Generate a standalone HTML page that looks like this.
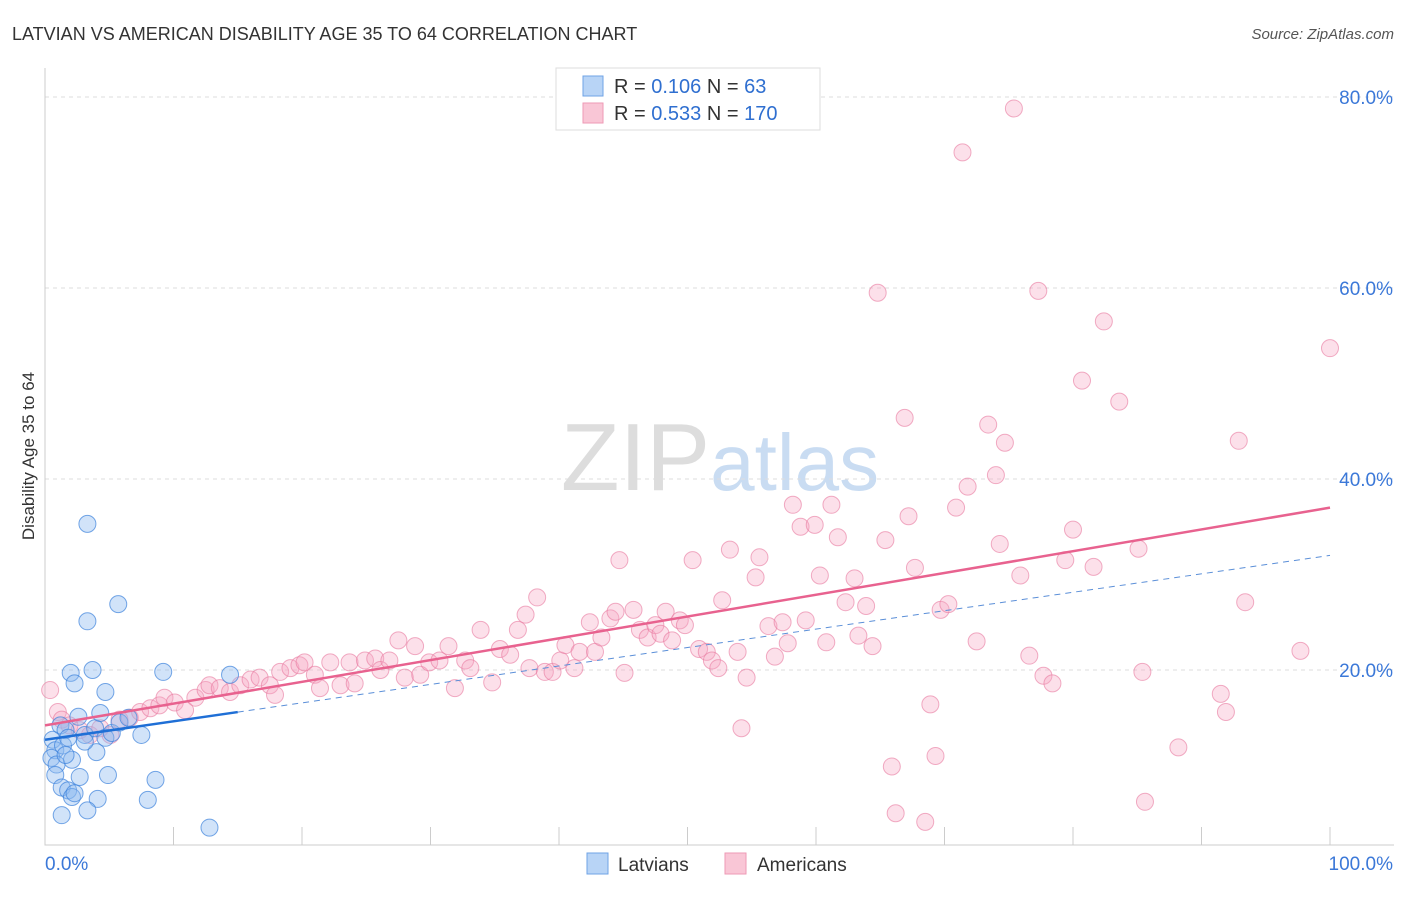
<!DOCTYPE html>
<html><head><meta charset="utf-8"><style>
body{margin:0;background:#fff;font-family:"Liberation Sans",sans-serif;}
svg text{font-family:"Liberation Sans",sans-serif;}
</style></head><body>
<svg id="chart" width="1406" height="892" viewBox="0 0 1406 892" xmlns="http://www.w3.org/2000/svg">
<text x="12" y="40" font-size="18" fill="#333">LATVIAN VS AMERICAN DISABILITY AGE 35 TO 64 CORRELATION CHART</text>
<text x="1394" y="39" font-size="15" fill="#555" font-style="italic" text-anchor="end">Source: ZipAtlas.com</text>
<text x="720" y="490" font-size="96" fill="#ddd" text-anchor="middle" font-family="Liberation Serif">ZIP<tspan fill="#c9dcf2" font-family="Liberation Sans" font-size="80">atlas</tspan></text>
<g id="grid"></g>
<g id="axes"></g>
<g id="pts"></g>
<g id="lines"></g>
<text transform="translate(34,456) rotate(-90)" font-size="17" fill="#333" text-anchor="middle">Disability Age 35 to 64</text>
<g>
<rect x="556" y="68" width="264" height="62" fill="#fff" stroke="#ddd"/>
<rect x="583" y="76" width="20" height="20" fill="#b8d4f6" stroke="#6fa3e6"/>
<rect x="583" y="103" width="20" height="20" fill="#f9c6d6" stroke="#ee9ab5"/>
<text x="614" y="93" font-size="20" fill="#333">R = <tspan fill="#2f6fd0">0.106</tspan>   N = <tspan fill="#2f6fd0">  63</tspan></text>
<text x="614" y="120" font-size="20" fill="#333">R = <tspan fill="#2f6fd0">0.533</tspan>   N = <tspan fill="#2f6fd0">170</tspan></text>
</g>
<g>
<rect x="587" y="853" width="21" height="21" fill="#b8d4f6" stroke="#6fa3e6"/>
<text x="618" y="871" font-size="19" fill="#333">Latvians</text>
<rect x="725" y="853" width="21" height="21" fill="#f9c6d6" stroke="#ee9ab5"/>
<text x="757" y="871" font-size="19" fill="#333">Americans</text>
</g>
</svg>
<script>
const yTicks=[20,40,60,80];
const yTickLabels=["20.0%","40.0%","60.0%","80.0%"];
const xTickLabels=["0.0%","100.0%"];
const latX=[0.6,0.8,0.5,0.9,1.2,1.4,1.6,1.8,0.8,1.3,1.3,1.8,2.0,2.3,2.1,2.3,2.7,2.6,3.1,3.3,3.3,3.7,3.9,4.0,4.1,4.3,4.7,4.7,4.9,5.2,5.7,5.8,6.5,7.5,8.0,8.6,9.2,12.8,14.4,3.3,3.1,2.1,1.6];
const latY=[12.7,11.6,10.8,10.1,14.2,12.1,13.7,12.9,9.0,7.7,4.8,7.4,19.7,18.6,6.7,7.1,8.8,15.1,13.2,35.3,25.1,20.0,13.9,11.4,6.5,15.5,17.7,12.9,9.0,13.4,26.9,14.5,15.0,13.2,6.4,8.5,19.8,3.5,19.5,5.3,12.5,10.6,11.1];
const amX=[0.4,1.0,1.3,1.9,2.7,3.5,4.3,5.1,5.8,6.6,7.4,8.2,8.9,9.3,10.1,10.9,11.7,12.5,12.8,13.6,14.4,15.2,16.0,16.7,17.5,17.9,18.3,19.1,19.8,20.2,21.0,21.4,22.2,23.0,23.7,24.1,24.9,25.7,26.1,26.8,27.5,28.0,28.8,29.2,29.9,30.7,31.4,31.9,32.7,33.1,33.9,34.8,35.4,36.2,36.8,37.4,37.7,38.3,38.9,39.5,40.1,40.5,41.2,41.6,42.4,42.8,43.3,44.0,44.4,44.7,45.1,45.8,46.3,46.9,47.5,47.9,48.3,48.8,49.4,49.8,50.4,50.9,51.5,51.9,52.4,52.7,53.3,53.9,54.2,54.6,55.3,55.6,56.3,56.8,57.4,57.8,58.2,58.8,59.2,59.9,60.3,60.8,61.2,61.7,62.3,63.0,63.3,63.9,64.4,64.8,65.4,65.9,66.2,66.9,67.2,67.7,68.5,68.9,69.3,69.7,70.3,70.9,71.4,71.8,72.5,73.4,74.0,74.3,74.7,75.4,75.9,76.6,77.3,77.7,78.4,79.4,80.0,80.7,81.6,82.4,83.6,85.1,85.4,85.6,88.2,91.5,91.9,92.9,93.4,97.7,100.0];
const amY=[17.9,15.6,14.8,14.2,13.7,13.2,13.9,13.2,14.8,15.0,15.6,16.0,16.3,17.1,16.6,15.8,17.1,17.9,18.4,18.1,17.7,18.4,19.0,19.2,18.4,17.4,19.8,20.2,20.5,20.8,19.5,18.1,20.8,18.4,20.8,18.6,21.0,21.2,20.0,21.0,23.1,19.2,22.5,19.5,20.8,21.0,22.5,18.1,21.0,20.2,24.2,18.7,22.2,21.6,24.2,25.8,20.2,27.6,19.8,19.8,21.0,22.6,20.2,21.9,25.0,21.9,23.4,25.4,26.1,31.5,19.7,26.3,24.2,23.4,24.7,23.8,26.1,23.1,25.2,24.7,31.5,22.2,21.9,21.0,20.2,27.3,32.6,21.9,13.9,19.2,29.7,31.8,24.6,21.4,25.0,22.8,37.3,35.0,25.2,35.2,29.9,22.9,37.3,33.9,27.1,29.6,23.6,26.7,22.5,59.5,33.6,9.9,5.0,46.4,36.1,30.7,4.1,16.4,11.0,26.3,26.9,37.0,74.2,39.2,23.0,45.7,40.4,33.2,43.8,78.8,29.9,21.5,59.7,19.4,18.6,31.5,34.7,50.3,30.8,56.5,48.1,32.7,19.8,6.2,11.9,17.5,15.6,44.0,27.1,22.0,53.7];
const latTrend=[12.7,32.0];
const amTrend=[14.2,37.0];
const NS="http://www.w3.org/2000/svg";
const X0=45,X1=1330,Y0=861,YS=9.55;
function sx(v){return X0+(X1-X0)*v/100;}
function sy(v){return Y0-v*YS;}
function mk(tag,attrs,parent){const e=document.createElementNS(NS,tag);for(const k in attrs)e.setAttribute(k,attrs[k]);parent.appendChild(e);return e;}
const grid=document.getElementById('grid'),axes=document.getElementById('axes'),pts=document.getElementById('pts'),lines=document.getElementById('lines');
yTicks.forEach((t,i)=>{
 const l=mk('line',{x1:45,x2:1394,y1:sy(t),y2:sy(t),stroke:'#ddd','stroke-dasharray':'4,4'},grid);
 
 
 const tx=mk('text',{x:1393,y:sy(t)+7,'font-size':19,fill:'#3b78d8','text-anchor':'end'},axes);
 tx.textContent=yTickLabels[i];
 
 
});
const ax=mk('path',{d:'M45 68 V845 H1394',stroke:'#ccc',fill:'none'},axes);


for(let i=1;i<=10;i++){
 const t=mk('line',{x1:sx(i*10),x2:sx(i*10),y1:827,y2:845,stroke:'#ccc'},axes);
 
 
}
[[0,'start',45],[100,'end',1393]].forEach((d,i)=>{
 const tx=mk('text',{x:d[2],y:870,'font-size':19,fill:'#3b78d8','text-anchor':d[1]},axes);
 tx.textContent=xTickLabels[i];
 
 
});
amX.forEach((x,i)=>{
 const c=mk('circle',{cx:sx(x),cy:sy(amY[i]),r:8.5,fill:'rgba(246,166,194,0.35)',stroke:'rgba(232,120,158,0.6)','stroke-width':1},pts);
 
 
});
latX.forEach((x,i)=>{
 const c=mk('circle',{cx:sx(x),cy:sy(latY[i]),r:8.5,fill:'rgba(140,185,240,0.4)',stroke:'rgba(60,130,220,0.7)','stroke-width':1},pts);
 
 
});
const lf=v=>latTrend[0]+(latTrend[1]-latTrend[0])*v/100;
const l1=mk('line',{x1:sx(15),y1:sy(lf(15)),x2:sx(100),y2:sy(lf(100)),stroke:'#5b8fd8','stroke-width':1,'stroke-dasharray':'6,5'},lines);


const l2=mk('line',{x1:sx(0),y1:sy(lf(0)),x2:sx(15),y2:sy(lf(15)),stroke:'#1f6fd6','stroke-width':2.5},lines);


const l3=mk('line',{x1:sx(0),y1:sy(amTrend[0]),x2:sx(100),y2:sy(amTrend[1]),stroke:'#e8628f','stroke-width':2.5},lines);


</script>
</body></html>
